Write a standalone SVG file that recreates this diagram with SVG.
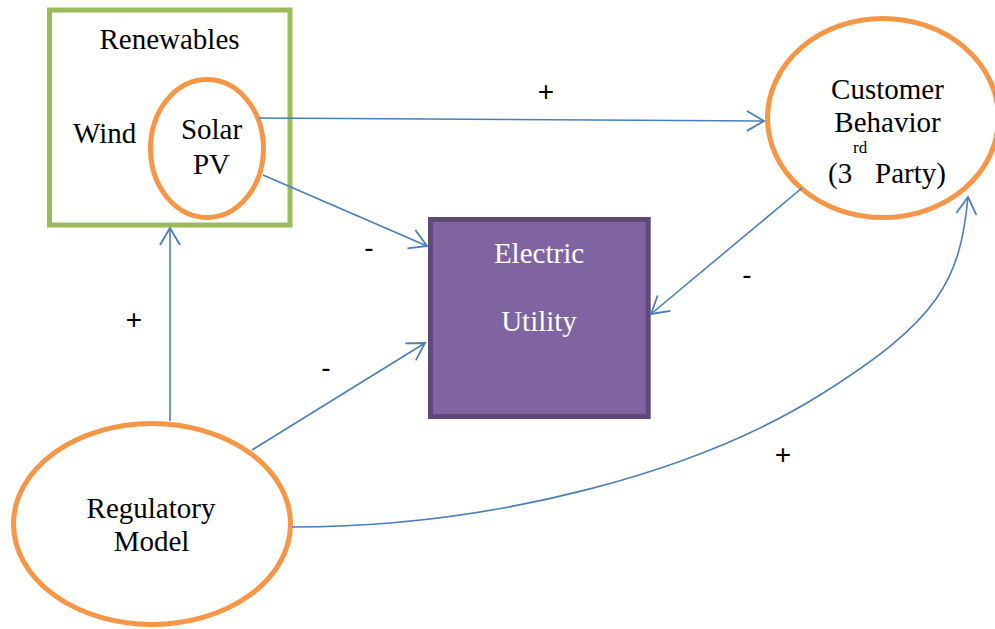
<svg xmlns="http://www.w3.org/2000/svg" width="995" height="629" viewBox="0 0 995 629">
  <style>
    .lbl { font-family: "Liberation Serif", "Times New Roman", serif; font-size: 29px; fill: #000; }
    .wht { fill: #fff; }
    .sign { font-family: "Liberation Sans", Arial, sans-serif; font-size: 28px; fill: #000; text-anchor: middle; }
    .mid { text-anchor: middle; }
    .oval { fill: #fff; stroke: #F79646; stroke-width: 5; }
    .link { fill: none; stroke: #4A7EBB; stroke-width: 1.6; marker-end: url(#open); }
  </style>
  <defs>
    <marker id="open" markerUnits="userSpaceOnUse" markerWidth="24" markerHeight="24" viewBox="-20 -12 24 24" refX="0" refY="0" orient="auto" overflow="visible">
      <path d="M-17,-10 L0,0 L-17,10" fill="none" stroke="#4A7EBB" stroke-width="1.8" stroke-linejoin="miter"/>
    </marker>
  </defs>

  <rect width="995" height="629" fill="#fff"/>

  <!-- Renewables group: box containing Wind and the Solar PV oval -->
  <g id="renewables">
    <rect x="49.5" y="10" width="240.5" height="215" fill="#fff" stroke="#9BBB59" stroke-width="5"/>
    <text class="lbl mid" x="169.5" y="49">Renewables</text>
    <text class="lbl" x="73" y="143">Wind</text>
  </g>

  <g id="solar-pv">
    <ellipse class="oval" cx="207" cy="148.5" rx="56.5" ry="69"/>
    <text class="lbl mid" x="211.5" y="139">Solar</text>
    <text class="lbl mid" x="211.5" y="174">PV</text>
  </g>

  <g id="customer-behavior">
    <ellipse class="oval" cx="883" cy="118" rx="115.5" ry="99.5"/>
    <text class="lbl mid" x="887.5" y="99">Customer</text>
    <text class="lbl mid" x="887.5" y="132">Behavior</text>
    <text class="lbl" x="828" y="183">(3</text>
    <text class="lbl" x="853" y="153" style="font-size:17px">rd</text>
    <text class="lbl" x="875" y="183">Party)</text>
  </g>

  <g id="electric-utility">
    <rect x="430.5" y="219.5" width="217.7" height="197" fill="#8064A2" stroke="#5F497A" stroke-width="5"/>
    <text class="lbl mid wht" x="539" y="263">Electric</text>
    <text class="lbl mid wht" x="539" y="331">Utility</text>
  </g>

  <g id="regulatory-model">
    <ellipse class="oval" cx="152" cy="524" rx="138.5" ry="100.5"/>
    <text class="lbl mid" x="151" y="518">Regulatory</text>
    <text class="lbl mid" x="151.5" y="551">Model</text>
  </g>

  <!-- Influence links -->
  <g id="connectors">
    <path class="link" d="M259,118 L764,121"/>
    <path class="link" d="M263,175 L427,246"/>
    <path class="link" d="M802,188 L651,314"/>
    <path class="link" d="M252,450 L425,343"/>
    <path class="link" d="M170,421 L170,228"/>
    <path class="link" d="M292,527 C500,527 700,470 820,395 S960,280 968,197"/>
  </g>

  <!-- Link polarities -->
  <g id="signs">
    <text class="sign" x="546" y="101">+</text>
    <text class="sign" x="369" y="257">-</text>
    <text class="sign" x="134" y="329">+</text>
    <text class="sign" x="326" y="377">-</text>
    <text class="sign" x="747" y="284">-</text>
    <text class="sign" x="783" y="464">+</text>
  </g>
</svg>
